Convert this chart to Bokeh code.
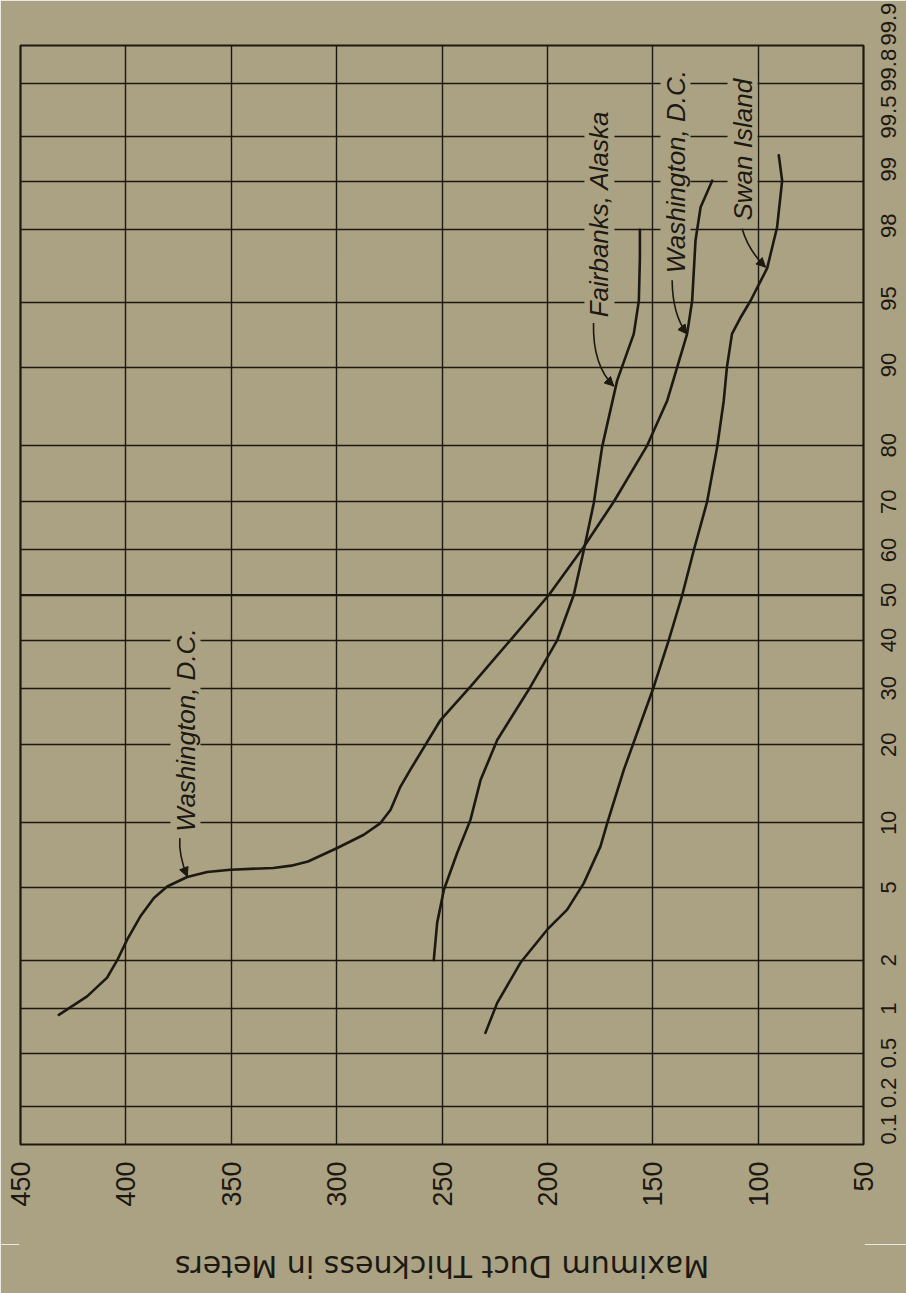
import math
from statistics import NormalDist
from bokeh.plotting import figure
from bokeh.layouts import column
from bokeh.models import (Range1d, FixedTicker, CustomJSTickFormatter, Label,
                          Arrow, NormalHead, Span)
from bokeh.embed import file_html
from bokeh.resources import INLINE

# ---------------- data ----------------
prob_ticks = [0.1, 0.2, 0.5, 1, 2, 5, 10, 20, 30, 40, 50, 60, 70, 80, 90,
              95, 98, 99, 99.5, 99.8, 99.9]
thickness_ticks = [450, 400, 350, 300, 250, 200, 150, 100, 50]

washington_pct = [0.91, 1.2, 1.57, 2.0, 2.63, 3.54, 4.42, 5.06, 5.64, 5.96,
                  6.12, 6.24, 6.4, 6.7, 7.74, 8.88, 9.98, 11.35, 14.07, 16.3, 24.1,
                  30.3, 40.0, 50.0, 60.7, 70.0, 80.0, 86.3, 92.9, 95.1, 97.7,
                  98.54, 99.01]
washington_m = [431.8, 418.4, 408.9, 404.1, 399.4, 393.1, 386.7, 380.4, 370.9,
                361.4, 350.4, 330.0, 321.5, 313.6, 299.7, 287.1, 279.2, 274.4, 269.7,
                265.0, 250.7, 236.5, 217.5, 199.3, 182.7, 168.5, 152.6, 143.1,
                133.7, 131.3, 129.7, 127.3, 121.8]

fairbanks_pct = [2.0, 3.26, 4.87, 7.34, 10.3, 14.9, 20.75, 30.3, 40.0, 50.0,
                 60.0, 69.7, 79.8, 88.6, 92.9, 95.1, 97.1, 98.0]
fairbanks_m = [253.9, 252.3, 249.1, 242.8, 236.5, 231.7, 223.8, 208.0, 195.3,
               187.5, 182.7, 178.0, 174.0, 166.9, 159.0, 156.6, 156.1, 156.1]

swan_pct = [0.69, 1.09, 1.93, 2.99, 3.84, 5.26, 7.87, 9.98, 16.3, 30.3, 40.0,
            50.0, 60.0, 70.0, 79.8, 86.3, 90.0, 92.9, 94.0, 95.1, 96.7, 98.07,
            99.01, 99.33]
swan_m = [229.4, 223.8, 212.8, 200.1, 190.6, 182.7, 174.8, 171.6, 163.7, 149.5,
          142.4, 136.0, 130.5, 124.2, 119.4, 116.3, 114.8, 112.4, 108.6, 103.6,
          95.7, 91.0, 88.6, 90.2]

# curve labels: text, anchor thickness, anchor percent (start of the text)
label_text = ["Washington, D.C.", "Fairbanks, Alaska", "Washington, D.C.", "Swan Island"]
label_m = [371.7, 175.3, 139.2, 107.4]
label_pct = [9.16, 94.08, 96.48, 98.24]

# leader lines: start, control, end (arrow tip) in (thickness, percent)
lead_m0 = [374.4, 178.1, 140.8, 107.6]
lead_p0 = [8.58, 93.7, 96.16, 98.03]
lead_mc = [375.0, 178.6, 140.6, 104.6]
lead_pc = [7.2, 90.2, 94.2, 97.37]
lead_m1 = [370.9, 168.5, 133.7, 96.5]
lead_p1 = [5.67, 88.0, 92.9, 96.74]

axis_title = "Maximum Duct Thickness in Meters"

# ---------------- styling ----------------
BG = "#aaa283"
INK = "#1c1812"
FW, FH = 843, 1099
RIGHT_FS = 22

nd = NormalDist()


def pz(p):
    return nd.inv_cdf(p / 100.0)


zmin, zmax = pz(prob_ticks[0]), pz(prob_ticks[-1])
px_per_z = FH / (zmax - zmin)

p = figure(frame_width=FW, frame_height=FH,
           x_range=Range1d(450, 50), y_range=Range1d(zmin, zmax),
           y_axis_location="right", toolbar_location=None,
           output_backend="svg",
           min_border_left=20, min_border_top=45, min_border_right=43,
           min_border_bottom=100,
           background_fill_color=BG, border_fill_color=BG,
           outline_line_color=INK, outline_line_width=2.2, outline_line_alpha=1)

grid_z = [pz(v) for v in prob_ticks]
p.xgrid.ticker = FixedTicker(ticks=thickness_ticks)
p.ygrid.ticker = FixedTicker(ticks=grid_z)
for g in (p.xgrid[0], p.ygrid[0]):
    g.grid_line_color = INK
    g.grid_line_width = 1.4
    g.grid_line_alpha = 1.0

p.add_layout(Span(location=pz(50), dimension="width", line_color=INK, line_width=2.0))

# bottom axis (thickness) - labels read bottom-to-top
xa = p.xaxis[0]
xa.ticker = FixedTicker(ticks=thickness_ticks)
xa.major_label_orientation = math.pi / 2
xa.major_tick_line_color = None
xa.minor_tick_line_color = None
xa.axis_line_color = None
xa.major_tick_out = 0
xa.major_label_standoff = 17
xa.major_label_text_font = "Liberation Sans"
xa.major_label_text_font_size = "27px"
xa.major_label_text_color = INK

# right axis (probability, normal-probability scale)
# a rotated label starts at its tick, so the tick is moved down by half the
# label length to centre it; hand-lettered labels near the ends are nudged.
nudge_px = {99.9: -22, 99.8: -13, 99.5: -20, 99: -12, 98: -4, 95: -4, 90: -2,
            0.2: -14}
label_s = [f"{v:g}" for v in prob_ticks]


def text_len(s, fs):
    return fs * sum(0.556 if c.isdigit() else 0.278 for c in s)


label_z = []
for v, s in zip(prob_ticks, label_s):
    off = nudge_px.get(v, 0) + text_len(s, RIGHT_FS) / 2.0
    zz = pz(v) - off / px_per_z
    label_z.append(min(max(zz, zmin), zmax))

ya = p.yaxis[0]
ya.ticker = FixedTicker(ticks=label_z)
ya.formatter = CustomJSTickFormatter(args=dict(zs=label_z, labs=label_s), code="""
    let best = 0, d = 1e9;
    for (let i = 0; i < zs.length; i++) {
        const e = Math.abs(zs[i] - tick);
        if (e < d) { d = e; best = i; }
    }
    return labs[best];
""")
ya.major_label_orientation = math.pi / 2
ya.major_tick_line_color = None
ya.minor_tick_line_color = None
ya.axis_line_color = None
ya.major_tick_out = 0
ya.major_label_standoff = 25
ya.major_label_text_font = "Liberation Sans"
ya.major_label_text_font_size = f"{RIGHT_FS}px"
ya.major_label_text_color = INK

# curves
for ms, ps in ((washington_m, washington_pct), (fairbanks_m, fairbanks_pct),
               (swan_m, swan_pct)):
    p.line(x=ms, y=[pz(v) for v in ps], line_color=INK, line_width=2.6,
           line_join="round", line_cap="round")

# leaders
p.quadratic(x0=lead_m0, y0=[pz(v) for v in lead_p0],
            x1=lead_m1, y1=[pz(v) for v in lead_p1],
            cx=lead_mc, cy=[pz(v) for v in lead_pc],
            line_color=INK, line_width=1.6)
for i in range(len(lead_m1)):
    p.add_layout(Arrow(end=NormalHead(size=9, fill_color=INK, line_color=INK, line_width=1),
                       x_start=lead_mc[i], y_start=pz(lead_pc[i]),
                       x_end=lead_m1[i], y_end=pz(lead_p1[i]),
                       line_alpha=0))

# curve labels
for t, m, pc in zip(label_text, label_m, label_pct):
    p.add_layout(Label(x=m, y=pz(pc), text=t, angle=math.pi / 2,
                       text_align="left", text_baseline="middle",
                       text_font="Liberation Sans", text_font_style="italic",
                       text_font_size="26px", text_color=INK,
                       background_fill_color=BG))

# axis title strip, upside down as on the rotated sheet
pt = figure(width=906, height=49, x_range=Range1d(0, 1), y_range=Range1d(0, 1),
            toolbar_location=None, output_backend="svg", min_border=0,
            background_fill_color=BG, border_fill_color=BG,
            outline_line_color=BG, outline_line_width=3)
pt.axis.visible = False
pt.grid.visible = False
pt.add_layout(Label(x=0.5, y=0.56, text=axis_title, angle=math.pi,
                    text_align="center", text_baseline="middle",
                    text_font="DejaVu Sans", text_font_size="30px",
                    text_color=INK))

layout = column(p, pt, spacing=0)
open("out.html", "w").write(file_html(layout, INLINE, title="Maximum Duct Thickness"))
